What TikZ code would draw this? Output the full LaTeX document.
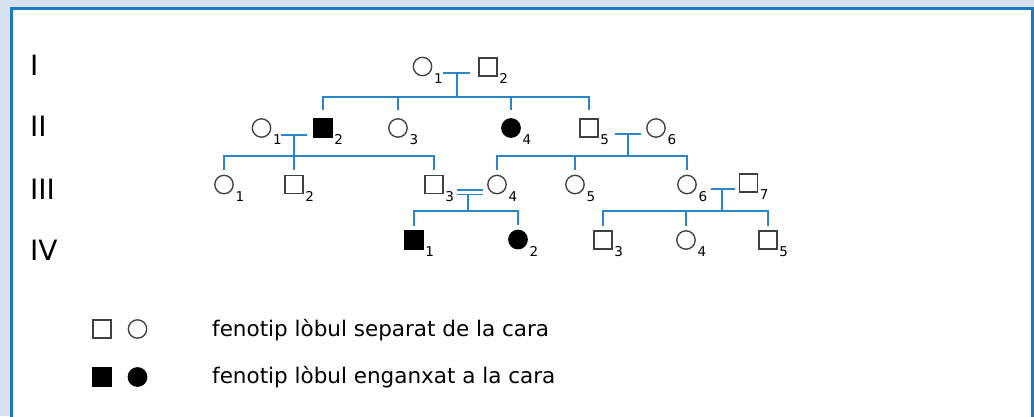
\documentclass[tikz,border=0pt]{standalone}
\usepackage{fontspec}
\setmainfont{DejaVu Sans}
\usetikzlibrary{calc}
\definecolor{bgblue}{HTML}{D9E2F3}
\definecolor{frameblue}{HTML}{1A7AC4}
\definecolor{pedblue}{HTML}{2A86C8}
\definecolor{symgray}{HTML}{404040}
\tikzset{
  male/.style={rectangle,draw=symgray,line width=1.35pt,minimum size=18.2pt,inner sep=0pt},
  female/.style={circle,draw=symgray,line width=1.35pt,minimum size=18.4pt,inner sep=0pt},
  aff/.style={fill=black,draw=black},
  lnk/.style={draw=pedblue,line width=1.7pt},
  subnum/.style={anchor=base west,inner sep=0pt,font=\fontsize{13.5}{14}\selectfont},
  gen/.style={anchor=base west,inner sep=0pt,font=\fontsize{28}{28}\selectfont},
  legtext/.style={anchor=base west,inner sep=0pt,font=\fontsize{21.5}{24}\selectfont}
}
\newcommand\pind[5]{%
  \node[#2] (#1) at (#3,#4) {};
  \node[subnum] (#1s) at ($(#1.east |- #1.south)+(1.5,6.8)$) {#5};
}
\begin{document}
\begin{tikzpicture}[x=1pt,y=-1pt]
\useasboundingbox (0,0) rectangle (1034,416);
\fill[bgblue] (0,0) rectangle (1034,416);
\fill[white] (11,8) rectangle (1034,430);
\draw[frameblue,line width=3pt] (11.5,430) -- (11.5,8.5) -- (1032.8,8.5) -- (1032.8,430);

% generation labels
\node[gen] (gI)   at (30,75)   {I};
\node[gen] (gII)  at (30,136.7) {II};
\node[gen] (gIII) at (30,199)  {III};
\node[gen] (gIV)  at (30,260.7) {IV};

% individuals
\pind{I1}{female}{422.5}{66.5}{1}
\pind{I2}{male}{488}{67}{2}

\pind{II1}{female}{261.5}{128}{1}
\pind{II2}{male,aff}{323}{128}{2}
\pind{II3}{female}{398}{128}{3}
\pind{II4}{female,aff}{511}{128}{4}
\pind{II5}{male}{589}{128}{5}
\pind{II6}{female}{656}{128}{6}

\pind{III1}{female}{224}{184.5}{1}
\pind{III2}{male}{294}{184.5}{2}
\pind{III3}{male}{434}{184.5}{3}
\pind{III4}{female}{497}{184.5}{4}
\pind{III5}{female}{575}{184.5}{5}
\pind{III6}{female}{687}{184.5}{6}
\pind{III7}{male}{748.5}{183}{7}

\pind{IV1}{male,aff}{414}{240}{1}
\pind{IV2}{female,aff}{518}{239.5}{2}
\pind{IV3}{male}{603}{240}{3}
\pind{IV4}{female}{686}{240}{4}
\pind{IV5}{male}{768}{240}{5}

% generation I mating and offspring
\coordinate (mIl) at (443,73);
\coordinate (mIr) at (470,73);
\coordinate (mI)  at (457,73);
\coordinate (sI)  at (457,97);
\draw[lnk] (mIl) -- (mIr);
\draw[lnk] (mI) -- (sI);
\foreach \c in {II2,II3,II4,II5}
  \draw[lnk] (sI) -| ([yshift=8pt]\c.north);

% II1 x II2
\coordinate (mAl) at (281,135);
\coordinate (mAr) at (307,135);
\coordinate (mA)  at (294,135);
\coordinate (sA)  at (294,156);
\draw[lnk] (mAl) -- (mAr);
\draw[lnk] (mA) -- (sA);
\foreach \c in {III1,III2,III3}
  \draw[lnk] (sA) -| ([yshift=5pt]\c.north);

% II5 x II6
\coordinate (mBl) at (615,134);
\coordinate (mBr) at (641,134);
\coordinate (mB)  at (628,134);
\coordinate (sB)  at (628,156);
\draw[lnk] (mBl) -- (mBr);
\draw[lnk] (mB) -- (sB);
\foreach \c in {III4,III5,III6}
  \draw[lnk] (sB) -| ([yshift=5pt]\c.north);

% III3 = III4 (consanguineous)
\coordinate (mCl) at (457,190);
\coordinate (mCr) at (483,190);
\coordinate (mCl2) at (457,194.5);
\coordinate (mCr2) at (483,194.5);
\coordinate (mC)  at (468,194.5);
\coordinate (sC)  at (468,211);
\draw[lnk,line width=1.4pt] (mCl) -- (mCr);
\draw[lnk,line width=1.4pt] (mCl2) -- (mCr2);
\draw[lnk] (mC) -- (sC);
\foreach \c in {IV1,IV2}
  \draw[lnk] (sC) -| ([yshift=4.5pt]\c.north);

% III6 x III7
\coordinate (mDl) at (711,189);
\coordinate (mDr) at (735,189);
\coordinate (mD)  at (722,189);
\coordinate (sD)  at (722,211);
\draw[lnk] (mDl) -- (mDr);
\draw[lnk] (mD) -- (sD);
\foreach \c in {IV3,IV4,IV5}
  \draw[lnk] (sD) -| ([yshift=4.5pt]\c.north);

% legend
\node[male] (L1) at (102,329) {};
\node[female] (L2) at (137.5,329) {};
\node[male,aff] (L3) at (102,377) {};
\node[female,aff] (L4) at (137.5,377) {};
\node[legtext] (T1) at (212,336) {fenotip lòbul separat de la cara};
\node[legtext] (T2) at (212,383.3) {fenotip lòbul enganxat a la cara};
\end{tikzpicture}
\end{document}
